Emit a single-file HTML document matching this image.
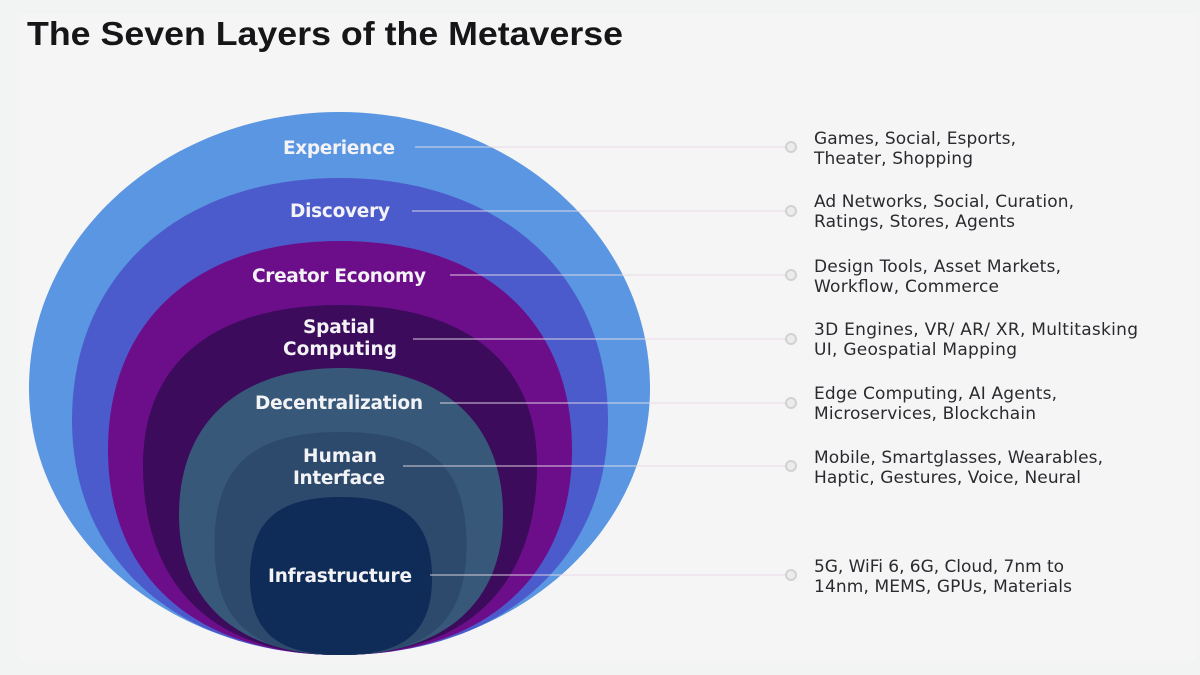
<!DOCTYPE html>
<html>
<head>
<meta charset="utf-8">
<style>
  html, body { margin: 0; padding: 0; width: 1200px; height: 675px; overflow: hidden; background: #f2f3f3; }
  svg { display: block; }
  .lbl { font-family: "DejaVu Sans", "Liberation Sans", sans-serif; font-weight: bold; font-size: 18.5px; fill: #f3f3f6; }
  .desc { font-family: "DejaVu Sans", "Liberation Sans", sans-serif; font-size: 17px; fill: #2a2a2f; }
  .title { font-family: "Liberation Sans", "DejaVu Sans", sans-serif; font-weight: bold; font-size: 33px; fill: #161618; }
</style>
</head>
<body>
<svg width="1200" height="675" viewBox="0 0 1200 675" xmlns="http://www.w3.org/2000/svg">
  <rect x="0" y="0" width="1200" height="675" fill="#f2f3f3"/>
  <rect x="20" y="14" width="1176" height="647" fill="#f6f5f6"/>

  <text class="title" x="27" y="45" textLength="596" lengthAdjust="spacingAndGlyphs">The Seven Layers of the Metaverse</text>

  <!-- Experience (outer) -->
  <path fill="#5a96e2" d="M29,388 C29,235.6 168,112 339.5,112 C511,112 650,235.6 650,388 C650,535.5 511,655 339.5,655 C168,655 29,535.5 29,388 Z"/>
  <!-- Discovery -->
  <path fill="#4c5bcb" d="M72,420 C72,274.8 179.2,178 340,178 C500.8,178 608,274.8 608,420 C608,561 500.8,655 340,655 C179.2,655 72,561 72,420 Z"/>
  <!-- Creator -->
  <path fill="#6c0e89" d="M108,450 C108,320.4 196.2,241 340,241 C483.8,241 572,320.4 572,450 C572,577.1 483.8,655 340,655 C196.2,655 108,577.1 108,450 Z"/>
  <!-- Spatial -->
  <path fill="#3c0b5c" d="M143,465 C143,362.6 213.9,305 340,305 C466.1,305 537,362.6 537,465 C537,586.6 466.1,655 340,655 C213.9,655 143,586.6 143,465 Z"/>
  <!-- Decentralization -->
  <path fill="#375878" d="M179,515 C179,422.4 238.9,368 341,368 C443.1,368 503,422.4 503,515 C503,603.2 443.1,655 341,655 C238.9,655 179,603.2 179,515 Z"/>
  <!-- Human Interface -->
  <path fill="#2d4a6c" d="M214.5,545 C214.5,465.9 252.3,432 340.5,432 C428.7,432 466.5,465.9 466.5,545 C466.5,622 428.7,655 340.5,655 C252.3,655 214.5,622 214.5,545 Z"/>
  <!-- Infrastructure -->
  <path fill="#0f2b57" d="M250,578 C250,521.3 277.3,497 341,497 C404.7,497 432,521.3 432,578 C432,631.9 404.7,655 341,655 C277.3,655 250,631.9 250,578 Z"/>

  <!-- connector lines -->
  <g stroke="#e4dae4" stroke-width="1.2" stroke-opacity="0.75">
    <line x1="415" y1="147" x2="785" y2="147"/>
    <line x1="412" y1="211" x2="785" y2="211"/>
    <line x1="450" y1="275" x2="785" y2="275"/>
    <line x1="413" y1="339" x2="785" y2="339"/>
    <line x1="440" y1="403" x2="785" y2="403"/>
    <line x1="403" y1="466" x2="785" y2="466"/>
    <line x1="430" y1="575" x2="785" y2="575"/>
  </g>
  <g fill="#ececec" stroke="#d2d2d2" stroke-width="2">
    <circle cx="791" cy="147" r="5"/>
    <circle cx="791" cy="211" r="5"/>
    <circle cx="791" cy="275" r="5"/>
    <circle cx="791" cy="339" r="5"/>
    <circle cx="791" cy="403" r="5"/>
    <circle cx="791" cy="466" r="5"/>
    <circle cx="791" cy="575" r="5"/>
  </g>

  <!-- layer labels -->
  <g text-anchor="middle">
    <text class="lbl" x="339" y="154" textLength="112">Experience</text>
    <text class="lbl" x="340" y="217" textLength="100">Discovery</text>
    <text class="lbl" x="339" y="282" textLength="174">Creator Economy</text>
    <text class="lbl" x="339" y="333" textLength="72">Spatial</text>
    <text class="lbl" x="340" y="355" textLength="114">Computing</text>
    <text class="lbl" x="339" y="409" textLength="168">Decentralization</text>
    <text class="lbl" x="340" y="462" textLength="74">Human</text>
    <text class="lbl" x="339" y="484" textLength="92">Interface</text>
    <text class="lbl" x="340" y="582" textLength="144">Infrastructure</text>
  </g>

  <!-- descriptions -->
  <text class="desc" x="814" y="144" textLength="202">Games, Social, Esports,</text>
  <text class="desc" x="814" y="164" textLength="159">Theater, Shopping</text>
  <text class="desc" x="814" y="207" textLength="260">Ad Networks, Social, Curation,</text>
  <text class="desc" x="814" y="227" textLength="201">Ratings, Stores, Agents</text>
  <text class="desc" x="814" y="272" textLength="247">Design Tools, Asset Markets,</text>
  <text class="desc" x="814" y="292" textLength="185">Workflow, Commerce</text>
  <text class="desc" x="814" y="335" textLength="324">3D Engines, VR/ AR/ XR, Multitasking</text>
  <text class="desc" x="814" y="355" textLength="203">UI, Geospatial Mapping</text>
  <text class="desc" x="814" y="399" textLength="243">Edge Computing, AI Agents,</text>
  <text class="desc" x="814" y="419" textLength="222">Microservices, Blockchain</text>
  <text class="desc" x="814" y="463" textLength="289">Mobile, Smartglasses, Wearables,</text>
  <text class="desc" x="814" y="483" textLength="267">Haptic, Gestures, Voice, Neural</text>
  <text class="desc" x="814" y="572" textLength="250">5G, WiFi 6, 6G, Cloud, 7nm to</text>
  <text class="desc" x="814" y="592" textLength="258">14nm, MEMS, GPUs, Materials</text>
</svg>
</body>
</html>
